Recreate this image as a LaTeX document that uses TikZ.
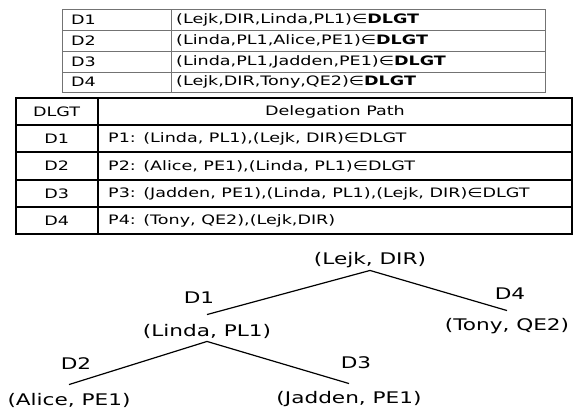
\documentclass[tikz,border=0pt]{standalone}
\usepackage{fontspec}
\setmainfont{DejaVu Sans}[FakeStretch=1.35]
\usepackage{tikz}
\usetikzlibrary{positioning}

\begin{document}
\begin{tikzpicture}[x=1pt, y=-1pt,
        cell/.style={inner sep=0pt, font=\fontsize{13}{15}\selectfont},
        pair/.style={inner sep=0pt, text height=11.5pt, text depth=3pt, font=\fontsize{16}{19}\selectfont},
        dlabel/.style={inner sep=0pt, font=\fontsize{16}{19}\selectfont},
        edge/.style={draw=black, line width=1.2pt},
        thingrid/.style={draw=black!55, line width=0.9pt},
        thickgrid/.style={draw=black, line width=1.6pt}
    ]
    \useasboundingbox (0,0) rectangle (573,409);
    % --- Bang 1 ---
    \draw[thingrid] (62.7,9.3) rectangle (545.7,92);
    \draw[thingrid] (62.7,30) -- (545.7,30);
    \draw[thingrid] (62.7,51) -- (545.7,51);
    \draw[thingrid] (62.7,72) -- (545.7,72);
    \draw[thingrid] (171.7,9.3) -- (171.7,92);
    \begin{scope}[every node/.style={cell, anchor=west}]
        \node (k1) at (71,19.7) {D1};
        \node (k2) at (71,40.5) {D2};
        \node (k3) at (71,61.5) {D3};
        \node (k4) at (71,82) {D4};
        \node (v1) at (176,19.7) {(Lejk,DIR,Linda,PL1)∈\textbf{DLGT}};
        \node (v2) at (176,40.5) {(Linda,PL1,Alice,PE1)∈\textbf{DLGT}};
        \node (v3) at (176,61.5) {(Linda,PL1,Jadden,PE1)∈\textbf{DLGT}};
        \node (v4) at (176,82) {(Lejk,DIR,Tony,QE2)∈\textbf{DLGT}};
    \end{scope}
    % --- Bang 2 ---
    \draw[thickgrid] (15.7,98) rectangle (572,234);
    \draw[thickgrid] (15.7,125) -- (572,125);
    \draw[thickgrid] (15.7,152) -- (572,152);
    \draw[thickgrid] (15.7,180) -- (572,180);
    \draw[thickgrid] (15.7,207) -- (572,207);
    \draw[thickgrid] (97.7,98) -- (97.7,234);
    \node[cell] (hd) at (56.7,111.5) {DLGT};
    \node[cell] (hp) at (335,111.5) {Delegation Path};
    \node[cell] (d1) at (56.7,138.5) {D1};
    \node[cell] (d2) at (56.7,166) {D2};
    \node[cell] (d3) at (56.7,193.5) {D3};
    \node[cell] (d4) at (56.7,220.5) {D4};
    \begin{scope}[every node/.style={cell, anchor=west}]
        \node (p1) at (108,138.5) {P1: (Linda, PL1),(Lejk, DIR)∈DLGT};
        \node (p2) at (108,166) {P2: (Alice, PE1),(Linda, PL1)∈DLGT};
        \node (p3) at (108,193.5) {P3: (Jadden, PE1),(Linda, PL1),(Lejk, DIR)∈DLGT};
        \node (p4) at (108,220.5) {P4: (Tony, QE2),(Lejk,DIR)};
    \end{scope}
    % --- Cay uy quyen ---
    \node[pair] (lejk) at (370,260) {(Lejk, DIR)};
    \node[pair] (linda) at (207,332) {(Linda, PL1)};
    \node[pair] (tony) at (507,326) {(Tony, QE2)};
    \node[pair] (alice) at (69,401) {(Alice, PE1)};
    \node[pair] (jadden) at (349,399) {(Jadden, PE1)};
    \draw[edge] ([yshift=-3pt]lejk.south) -- ([yshift=10pt]linda.north);
    \draw[edge] ([yshift=-3pt]lejk.south) -- ([yshift=8pt]tony.north);
    \draw[edge] ([yshift=-2pt]linda.south) -- ([yshift=9pt]alice.north);
    \draw[edge] ([yshift=-2pt]linda.south) -- ([yshift=8pt]jadden.north);
    \node[dlabel] (l1) at (199,298) {D1};
    \node[dlabel] (l4) at (510,294) {D4};
    \node[dlabel] (l2) at (76,364) {D2};
    \node[dlabel] (l3) at (356,363) {D3};
\end{tikzpicture}
\end{document}
